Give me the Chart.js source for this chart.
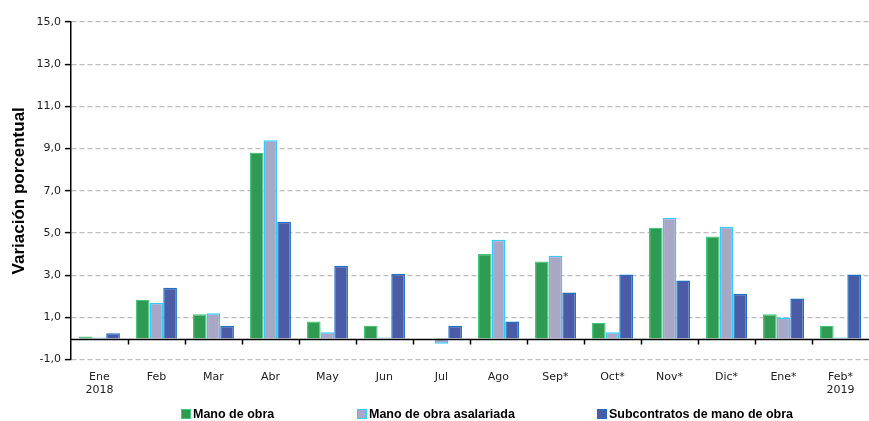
<!DOCTYPE html>
<html>
<head>
<meta charset="utf-8">
<script src="https://cdn.jsdelivr.net/npm/chart.js@4.4.1/dist/chart.umd.min.js"></script>
<style>
html,body{margin:0;padding:0;background:#fff;}
#wrap{width:869px;height:421px;position:relative;}
</style>
</head>
<body>
<div id="wrap"><canvas id="c" width="869" height="421"></canvas></div>
<script>
const categories = [["Ene","2018"],"Feb","Mar","Abr","May","Jun","Jul","Ago","Sep*","Oct*","Nov*","Dic*","Ene*",["Feb*","2019"]];
const manoDeObra = [0.1, 1.84, 1.15, 8.8, 0.8, 0.6, 0.0, 4.0, 3.65, 0.75, 5.25, 4.83, 1.15, 0.6];
const manoAsalariada = [0.05, 1.7, 1.2, 9.4, 0.3, 0.05, -0.25, 4.68, 3.92, 0.3, 5.72, 5.3, 1.0, 0.05];
const subcontratos = [0.25, 2.41, 0.6, 5.53, 3.45, 3.07, 0.6, 0.8, 2.18, 3.03, 2.75, 2.12, 1.9, 3.03];
const seriesNames = ["Mano de obra","Mano de obra asalariada","Subcontratos de mano de obra"];
const yMin = -1, yMax = 15, yStep = 2;

const zeroLinePlugin = {
  id: 'zeroLine',
  afterDatasetsDraw(chart) {
    const {ctx, chartArea, scales} = chart;
    const y0 = Math.round(scales.y.getPixelForValue(0)) + 0.5;
    ctx.save();
    ctx.strokeStyle = '#000';
    ctx.lineWidth = 1.5;
    ctx.beginPath();
    ctx.moveTo(chartArea.left, y0);
    ctx.lineTo(chartArea.right, y0);
    ctx.stroke();
    const n = chart.data.labels.length;
    const w = (scales.x.getPixelForValue(1) - scales.x.getPixelForValue(0));
    for (let i = 1; i < n; i++) {
      const x = Math.round(scales.x.getPixelForValue(i) - w/2) + 0.5;
      ctx.beginPath();
      ctx.moveTo(x, y0);
      ctx.lineTo(x, y0 + 5);
      ctx.stroke();
    }
    ctx.restore();
  }
};

const legendPlugin = {
  id: 'customLegend',
  afterDraw(chart, args, opts) {
    const {ctx} = chart;
    ctx.save();
    ctx.font = 'bold 12.5px "Liberation Sans", Arial, sans-serif';
    ctx.textBaseline = 'middle';
    chart.data.datasets.forEach((ds, i) => {
      const x = opts.xs[i], y = opts.y;
      ctx.fillStyle = ds.backgroundColor;
      ctx.fillRect(x, y - 5, 10, 10);
      ctx.strokeStyle = ds.borderColor;
      ctx.lineWidth = 1;
      ctx.strokeRect(x + 0.5, y - 4.5, 9, 9);
      ctx.fillStyle = '#000';
      ctx.fillText(ds.label, x + 12, y + 1);
    });
    ctx.restore();
  }
};

new Chart(document.getElementById('c'), {
  type: 'bar',
  data: {
    labels: categories,
    datasets: [
      {label: seriesNames[0], data: manoDeObra, backgroundColor: '#2f9b52', borderColor: '#45c77a', borderWidth: 1.2},
      {label: seriesNames[1], data: manoAsalariada, backgroundColor: '#a8a8c6', borderColor: '#33ccff', borderWidth: 1.5},
      {label: seriesNames[2], data: subcontratos, backgroundColor: '#4b5ba5', borderColor: '#1f6fc5', borderWidth: 1.5}
    ]
  },
  options: {
    responsive: false,
    animation: false,
    layout: {padding: {left: 9, right: 0, top: 22, bottom: 13}},
    plugins: {
      legend: {display: false},
      tooltip: {enabled: false},
      customLegend: {xs: [181, 357, 597], y: 414}
    },
    datasets: {bar: {categoryPercentage: 0.72, barPercentage: 1.0}},
    scales: {
      x: {
        grid: {display: false, drawTicks: false},
        border: {display: false},
        ticks: {color: '#222', font: {family: '"DejaVu Sans", Verdana, sans-serif', size: 11}, padding: 11, maxRotation: 0, autoSkip: false}
      },
      y: {
        min: yMin, max: yMax,
        ticks: {stepSize: yStep, color: '#222', padding: 4,
          font: {family: '"DejaVu Sans", Verdana, sans-serif', size: 11},
          callback: v => v.toFixed(1).replace('.', ',')},
        grid: {color: '#bdbdbd', lineWidth: 1.2, tickColor: '#000', tickLength: 6, tickWidth: 1.5},
        border: {display: true, color: '#000', width: 1.5, dash: [5, 3]},
        title: {display: true, text: 'Variación porcentual', color: '#000',
          font: {family: '"Liberation Sans", Arial, sans-serif', size: 17, weight: 'bold'}, padding: {top: 0, bottom: 3}}
      }
    }
  },
  plugins: [zeroLinePlugin, legendPlugin]
});
</script>
</body>
</html>
